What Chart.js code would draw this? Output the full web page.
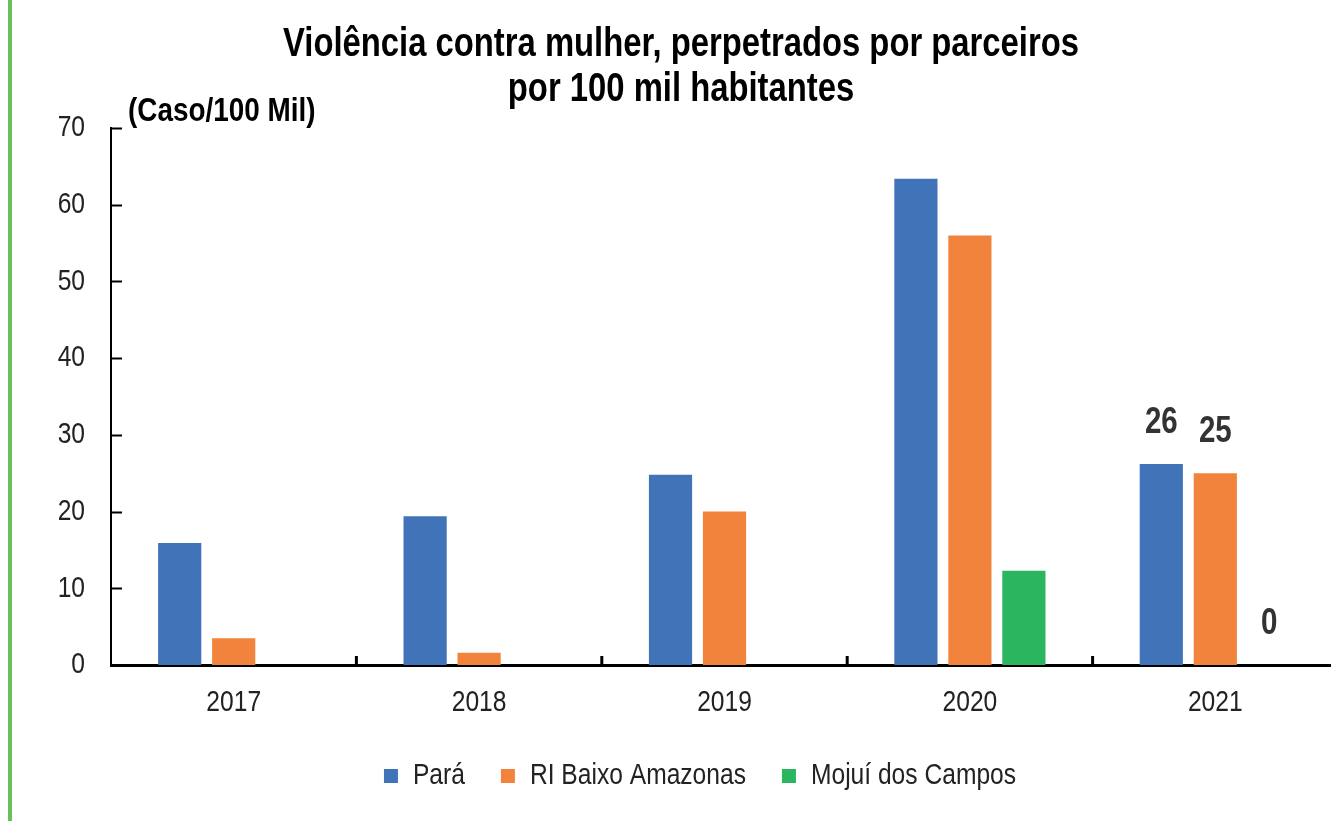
<!DOCTYPE html>
<html>
<head>
<meta charset="utf-8">
<script src="https://cdn.jsdelivr.net/npm/chart.js@4.4.1/dist/chart.umd.min.js"></script>
<style>
  html, body { margin: 0; padding: 0; background: #fff; overflow: hidden; }
  #wrap { position: relative; width: 1331px; height: 821px; overflow: hidden; }
  #bar { position: absolute; left: 8px; top: 0; width: 4px; height: 821px; background: #6bbf59; z-index: 1; }
  canvas { position: absolute; left: 0; top: 0; }
</style>
</head>
<body>
<div id="wrap">
  <div id="bar"></div>
  <!-- the plot runs slightly past the right edge in the original -->
  <canvas id="chart" width="1338" height="821"></canvas>
</div>
<script>
// data
var years = ['2017', '2018', '2019', '2020', '2021'];
var para = [15.9, 19.4, 24.8, 63.4, 26.2];
var riBaixoAmazonas = [3.5, 1.6, 20.0, 56.0, 25.0];
var mojui = [null, null, null, 12.3, 0];
var labelledYears = ['2021'];
var yTicks = [0, 10, 20, 30, 40, 50, 60, 70];

var titleLines = ['Violência contra mulher, perpetrados por parceiros', 'por 100 mil habitantes'];
var unitLabel = '(Caso/100 Mil)';

// no narrow font installed: draw Liberation Sans squeezed horizontally (like Arial Narrow)
var FONT = "'Liberation Sans', Arial, sans-serif";
var SQUEEZE = 0.82;
var TEXT = '#222222';

var canvas = document.getElementById('chart');
var c2d = canvas.getContext('2d');
var origFill = c2d.fillText.bind(c2d);
var origMeasure = c2d.measureText.bind(c2d);
c2d.fillText = function (t, x, y) {
  this.save();
  this.translate(x, y);
  this.scale(SQUEEZE, 1);
  origFill(t, 0, 0);
  this.restore();
};
c2d.measureText = function (t) {
  var m = origMeasure(t);
  return {
    width: m.width * SQUEEZE,
    actualBoundingBoxAscent: m.actualBoundingBoxAscent,
    actualBoundingBoxDescent: m.actualBoundingBoxDescent,
    actualBoundingBoxLeft: m.actualBoundingBoxLeft * SQUEEZE,
    actualBoundingBoxRight: m.actualBoundingBoxRight * SQUEEZE
  };
};

// title, unit label, inside tick marks and value labels
var decor = {
  id: 'decor',
  afterLayout: function (chart) {
    // legend sits a little right of the canvas centre in the original
    chart.legend.left += 31;
    chart.legend.right += 31;
  },
  afterDraw: function (chart) {
    var ctx = chart.ctx;
    var area = chart.chartArea;
    var x = chart.scales.x;
    var y = chart.scales.y;
    ctx.save();

    ctx.fillStyle = '#000';
    ctx.textAlign = 'center';
    ctx.textBaseline = 'middle';
    ctx.font = 'bold 40px ' + FONT;
    ctx.fillText(titleLines[0], 681, 45);
    ctx.fillText(titleLines[1], 681, 90);

    ctx.textAlign = 'left';
    ctx.font = 'bold 34px ' + FONT;
    ctx.fillText(unitLabel, area.left + 17, area.top - 16);

    // y ticks pointing inside
    ctx.strokeStyle = '#000';
    ctx.lineWidth = 2;
    yTicks.forEach(function (v) {
      var py = Math.round(y.getPixelForValue(v)) + 0.5;
      ctx.beginPath();
      ctx.moveTo(area.left, py);
      ctx.lineTo(area.left + 11, py);
      ctx.stroke();
    });

    // x ticks between categories
    ctx.lineWidth = 3;
    for (var i = 1; i < years.length; i++) {
      var px = (x.getPixelForValue(i - 1) + x.getPixelForValue(i)) / 2;
      ctx.beginPath();
      ctx.moveTo(px, area.bottom);
      ctx.lineTo(px, area.bottom - 9);
      ctx.stroke();
    }

    // value labels
    ctx.fillStyle = '#333';
    ctx.textAlign = 'center';
    ctx.textBaseline = 'bottom';
    ctx.font = 'bold 36px ' + FONT;
    chart.data.datasets.forEach(function (ds, di) {
      var meta = chart.getDatasetMeta(di);
      labelledYears.forEach(function (yr) {
        var idx = years.indexOf(yr);
        var v = ds.data[idx];
        if (v === null || v === undefined) return;
        var el = meta.data[idx];
        ctx.fillText(String(Math.round(v)), el.x, el.y - 23);
      });
    });
    ctx.restore();
  }
};

try {
  new Chart(canvas, {
    type: 'bar',
    data: {
      labels: years,
      datasets: [
        { label: 'Pará', data: para, backgroundColor: '#4173b8' },
        { label: 'RI Baixo Amazonas', data: riBaixoAmazonas, backgroundColor: '#f2833d' },
        { label: 'Mojuí dos Campos', data: mojui, backgroundColor: '#2bb55f' }
      ]
    },
    options: {
      responsive: false,
      animation: false,
      datasets: {
        bar: { barPercentage: 0.8, categoryPercentage: 0.66 }
      },
      layout: {
        padding: { left: 0, right: 0, top: 128, bottom: 20 }
      },
      plugins: {
        title: { display: false },
        tooltip: { enabled: false },
        legend: {
          display: true,
          position: 'bottom',
          labels: {
            boxWidth: 14,
            boxHeight: 14,
            padding: 36,
            color: TEXT,
            font: { family: FONT, size: 30 }
          }
        }
      },
      scales: {
        x: {
          grid: { display: false },
          border: { display: true, color: '#000', width: 3 },
          ticks: {
            color: TEXT,
            padding: 12,
            font: { family: FONT, size: 30 }
          },
          afterFit: function (s) { s.height = 60; }
        },
        y: {
          min: 0,
          max: 70,
          grid: { display: false },
          border: { display: true, color: '#000', width: 2 },
          ticks: {
            stepSize: 10,
            color: TEXT,
            padding: 18,
            font: { family: FONT, size: 30 }
          },
          afterFit: function (s) { s.width = 111; }
        }
      }
    },
    plugins: [decor]
  });
} catch (error) {
  console.error('An error occurred while initializing the chart:', error);
}
</script>
</body>
</html>
